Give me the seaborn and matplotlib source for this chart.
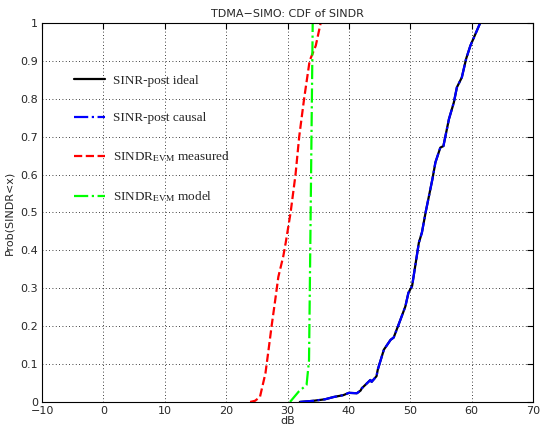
import numpy as np
import pandas as pd
import matplotlib
matplotlib.use("Agg")
import matplotlib.pyplot as plt
import seaborn as sns

# CDF curves (x in dB, y = probability)
ideal_db = [32.0, 34.2, 36.1, 37.5, 39.1, 40.0, 41.3, 41.9, 42.1, 43.5, 43.7, 44.5,
            44.7, 45.7, 46.8, 47.3, 48.4, 49.2, 49.7, 50.3, 51.4, 51.9, 52.5, 53.6,
            54.1, 54.9, 55.4, 56.3, 57.1, 57.6, 58.4, 59.1, 59.8, 60.6, 61.4]
ideal_p = [0.0, 0.003, 0.007, 0.013, 0.018, 0.024, 0.023, 0.03, 0.036, 0.058, 0.053, 0.068,
           0.085, 0.138, 0.164, 0.17, 0.217, 0.252, 0.288, 0.306, 0.42, 0.447, 0.5, 0.587,
           0.632, 0.671, 0.675, 0.746, 0.79, 0.83, 0.856, 0.905, 0.94, 0.97, 1.0]
causal_db = list(ideal_db)
causal_p = list(ideal_p)
measured_db = [23.9, 24.7, 25.5, 26.4, 26.9, 27.4, 28.0, 28.5, 29.3, 29.7, 30.5,
               31.3, 31.9, 32.7, 33.6, 34.6, 35.4]
measured_p = [0.0, 0.003, 0.013, 0.076, 0.137, 0.2, 0.27, 0.33, 0.384, 0.42, 0.5,
              0.6, 0.7, 0.8, 0.9, 0.94, 1.0]
model_db = [30.4, 31.8, 33.1, 33.5, 33.7, 33.9, 34.1]
model_p = [0.0, 0.027, 0.045, 0.11, 0.40, 0.70, 1.0]

labels = ["SINR-post ideal", "SINR-post causal",
          r"SINDR$_{\mathrm{EVM}}$ measured", r"SINDR$_{\mathrm{EVM}}$ model"]

sns.set_style("white")
plt.rcParams["font.family"] = ["DejaVu Sans"]
plt.rcParams["mathtext.fontset"] = "stix"

fig = plt.figure(figsize=(5.4, 4.24), dpi=100)
ax = fig.add_axes([0.078, 0.052, 0.909, 0.894])

lw = 1.6
sns.lineplot(x=ideal_db, y=ideal_p, ax=ax, color="black", linewidth=lw,
             linestyle="-", label=labels[0], estimator=None, sort=False)
sns.lineplot(x=causal_db, y=causal_p, ax=ax, color="blue", linewidth=lw,
             linestyle="-.", label=labels[1], estimator=None, sort=False)
sns.lineplot(x=measured_db, y=measured_p, ax=ax, color="red", linewidth=lw,
             linestyle="--", label=labels[2], estimator=None, sort=False)
sns.lineplot(x=model_db, y=model_p, ax=ax, color="#00ff00", linewidth=lw,
             linestyle="-.", label=labels[3], estimator=None, sort=False)

ax.set_xlim(-10, 70)
ax.set_ylim(0, 1)
ax.set_xticks(np.arange(-10, 71, 10))
ax.set_yticks(np.round(np.arange(0, 1.01, 0.1), 1))
ax.set_yticklabels(["0"] + [f"{v:.1f}" for v in np.arange(0.1, 0.95, 0.1)] + ["1"])
ax.tick_params(direction="in", length=4, labelsize=8, top=True, right=True,
               color="black", pad=3)
ax.grid(True, linestyle=(0, (1, 3)), color="black", linewidth=0.6)
for s in ax.spines.values():
    s.set_color("black")
    s.set_linewidth(0.8)

ax.set_title("TDMA\u2212SIMO: CDF of SINDR", fontsize=8, pad=4)
ax.set_xlabel("dB", fontsize=8, labelpad=0)
ax.set_ylabel("Prob(SINDR<x)", fontsize=8, labelpad=4)

leg = ax.legend(loc="upper left", bbox_to_anchor=(0.055, 0.877), frameon=False,
                prop={"family": "Liberation Serif", "size": 9.5},
                labelspacing=1.9, handlelength=2.3, handletextpad=0.6,
                borderaxespad=0.0)

fig.savefig("out.png", dpi=100)
